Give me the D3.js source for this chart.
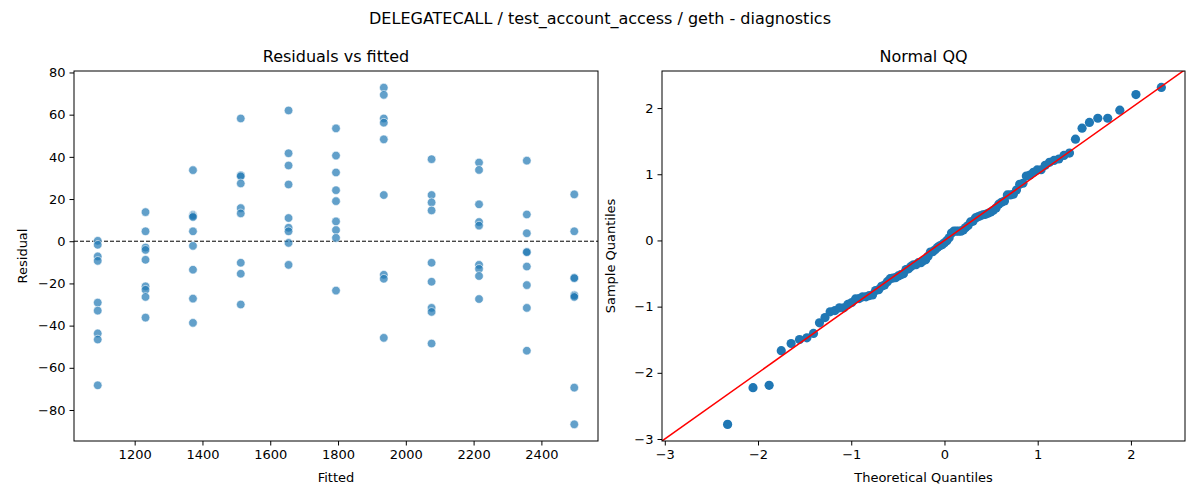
<!DOCTYPE html>
<html><head><meta charset="utf-8">
<script src="https://cdn.jsdelivr.net/npm/d3@7"></script>
<style>body{margin:0;background:#fff}text{font-family:"DejaVu Sans",sans-serif}</style>
</head><body><svg id="c" width="1200" height="500"></svg>
<script>
// fitted level of each group and the residuals
var fitted = [1091, 1232, 1372, 1513, 1654, 1794, 1935, 2076, 2216, 2357, 2497];
var residuals = [
  [0.2, -1.7, -7.2, -9.3, -29.1, -32.9, -43.7, -46.6, -68.3],
  [13.8, 4.7, -3.0, -4.1, -8.8, -21.4, -23.0, -26.4, -36.2],
  [33.7, 12.5, 12.0, 11.5, 4.7, -2.2, -13.5, -27.2, -38.7],
  [58.2, 31.3, 30.8, 27.4, 15.7, 13.2, -10.2, -15.4, -30.0],
  [62.0, 41.7, 35.9, 26.9, 11.0, 6.4, 4.7, -0.8, -11.2],
  [53.5, 40.6, 32.6, 24.2, 19.0, 9.4, 5.3, 1.6, -23.4],
  [72.8, 69.4, 58.2, 56.2, 48.3, 21.9, -15.9, -17.8, -45.8],
  [38.9, 21.9, 18.4, 14.6, -10.2, -19.2, -31.6, -33.5, -48.5],
  [37.3, 33.8, 17.5, 9.1, 7.4, -11.2, -13.1, -16.5, -27.4],
  [38.2, 12.7, 3.8, -5.0, -5.2, -12.0, -20.8, -31.6, -51.9],
  [22.2, 4.7, -17.3, -17.5, -25.5, -25.8, -26.4, -69.4, -86.8]
];
var xTicksL = [1200, 1400, 1600, 1800, 2000, 2200, 2400];
var yTicksL = [-80, -60, -40, -20, 0, 20, 40, 60, 80];
var qqTicks = [-3, -2, -1, 0, 1, 2];

var svg = d3.select("#c");
svg.append("text").attr("x", 600).attr("y", 24).attr("text-anchor", "middle")
  .style("font-size", "16px").text("DELEGATECALL / test_account_access / geth - diagnostics");

function frame(x0, x1, y0, y1, title, xl, yl) {
  var g = svg.append("g");
  g.append("text").attr("x", (x0 + x1) / 2).attr("y", y0 - 9).attr("text-anchor", "middle")
    .style("font-size", "16px").text(title);
  g.append("text").attr("x", (x0 + x1) / 2).attr("y", y1 + 41).attr("text-anchor", "middle")
    .style("font-size", "13px").text(xl);
  g.append("text").attr("transform", "translate(" + (x0 - 47) + "," + ((y0 + y1) / 2) + ") rotate(-90)")
    .attr("text-anchor", "middle").style("font-size", "13px").text(yl);
  return g;
}
function axes(g, x, y, xt, yt, fmt, x0, x1, y0, y1) {
  var ax = g.append("g").attr("transform", "translate(0," + y1 + ")")
    .call(d3.axisBottom(x).tickValues(xt).tickSize(4.5).tickPadding(4).tickFormat(fmt));
  var ay = g.append("g").attr("transform", "translate(" + x0 + ",0)")
    .call(d3.axisLeft(y).tickValues(yt).tickSize(4.5).tickPadding(4).tickFormat(fmt));
  [ax, ay].forEach(function (a) {
    a.select(".domain").remove();
    a.selectAll("text").style("font-size", "13px").attr("fill", "#000").style("font-family", "DejaVu Sans");
  });
  g.append("rect").attr("x", x0).attr("y", y0).attr("width", x1 - x0).attr("height", y1 - y0)
    .attr("fill", "none").attr("stroke", "#000").attr("stroke-width", 1);
}
var minus = function (d) { return String(d).replace("-", "\u2212"); };

// left: residuals vs fitted
var L = {x0: 74, x1: 598, y0: 71, y1: 441};
var xL = d3.scaleLinear().domain([1021, 2567]).range([L.x0, L.x1]);
var yL = d3.scaleLinear().domain([-94.7, 80.7]).range([L.y1, L.y0]);
var gl = frame(L.x0, L.x1, L.y0, L.y1, "Residuals vs fitted", "Fitted", "Residual");
var pts = [];
fitted.forEach(function (f, i) { residuals[i].forEach(function (r) { pts.push({f: f, r: r}); }); });
gl.append("line").attr("x1", L.x0).attr("x2", L.x1).attr("y1", yL(0)).attr("y2", yL(0))
  .attr("stroke", "#000").attr("stroke-dasharray", "4,2").attr("stroke-width", 1);
gl.selectAll("circle").data(pts).enter().append("circle")
  .attr("cx", function (d) { return xL(d.f); }).attr("cy", function (d) { return yL(d.r); })
  .attr("r", 4.3).attr("fill", "#1f77b4").attr("fill-opacity", 0.7)
  .attr("stroke", "#fff").attr("stroke-width", 0.6);
axes(gl, xL, yL, xTicksL, yTicksL, minus, L.x0, L.x1, L.y0, L.y1);

// right: normal QQ of the standardized residuals
function ppf(p) {
  var a = [-39.69683028665376, 220.9460984245205, -275.9285104469687, 138.3577518672690, -30.66479806614716, 2.506628277459239],
      b = [-54.47609879822406, 161.5858368580409, -155.6989798598866, 66.80131188771972, -13.28068155288572],
      c = [-0.007784894002430293, -0.3223964580411365, -2.400758277161838, -2.549732539343734, 4.374664141464968, 2.938163982698783],
      d = [0.007784695709041462, 0.3224671290700398, 2.445134137142996, 3.754408661907416];
  var q, r;
  if (p < 0.02425) { q = Math.sqrt(-2 * Math.log(p));
    return (((((c[0]*q+c[1])*q+c[2])*q+c[3])*q+c[4])*q+c[5]) / ((((d[0]*q+d[1])*q+d[2])*q+d[3])*q+1); }
  if (p > 1 - 0.02425) return -ppf(1 - p);
  q = p - 0.5; r = q * q;
  return (((((a[0]*r+a[1])*r+a[2])*r+a[3])*r+a[4])*r+a[5])*q / (((((b[0]*r+b[1])*r+b[2])*r+b[3])*r+b[4])*r+1);
}
var all = pts.map(function (d) { return d.r; });
var m = d3.mean(all), sd = d3.deviation(all), n = all.length;
var sample = all.map(function (v) { return (v - m) / sd; }).sort(d3.ascending);
var qq = sample.map(function (s, i) { return {t: ppf((i + 1) / (n + 1)), s: s}; });

var R = {x0: 662, x1: 1185, y0: 71, y1: 441};
var xR = d3.scaleLinear().domain([-3.03, 2.58]).range([R.x0, R.x1]);
var yR = d3.scaleLinear().domain([-3.03, 2.56]).range([R.y1, R.y0]);
var gr = frame(R.x0, R.x1, R.y0, R.y1, "Normal QQ", "Theoretical Quantiles", "Sample Quantiles");
gr.append("defs").append("clipPath").attr("id", "cr").append("rect")
  .attr("x", R.x0).attr("y", R.y0).attr("width", R.x1 - R.x0).attr("height", R.y1 - R.y0);
gr.selectAll("circle").data(qq).enter().append("circle")
  .attr("cx", function (d) { return xR(d.t); }).attr("cy", function (d) { return yR(d.s); })
  .attr("r", 4.6).attr("fill", "#1f77b4");
gr.append("line").attr("clip-path", "url(#cr)")
  .attr("x1", xR(-3.1)).attr("y1", yR(-3.1)).attr("x2", xR(2.7)).attr("y2", yR(2.7))
  .attr("stroke", "#ff0000").attr("stroke-width", 1.5);
axes(gr, xR, yR, qqTicks, qqTicks, minus, R.x0, R.x1, R.y0, R.y1);
</script></body></html>
